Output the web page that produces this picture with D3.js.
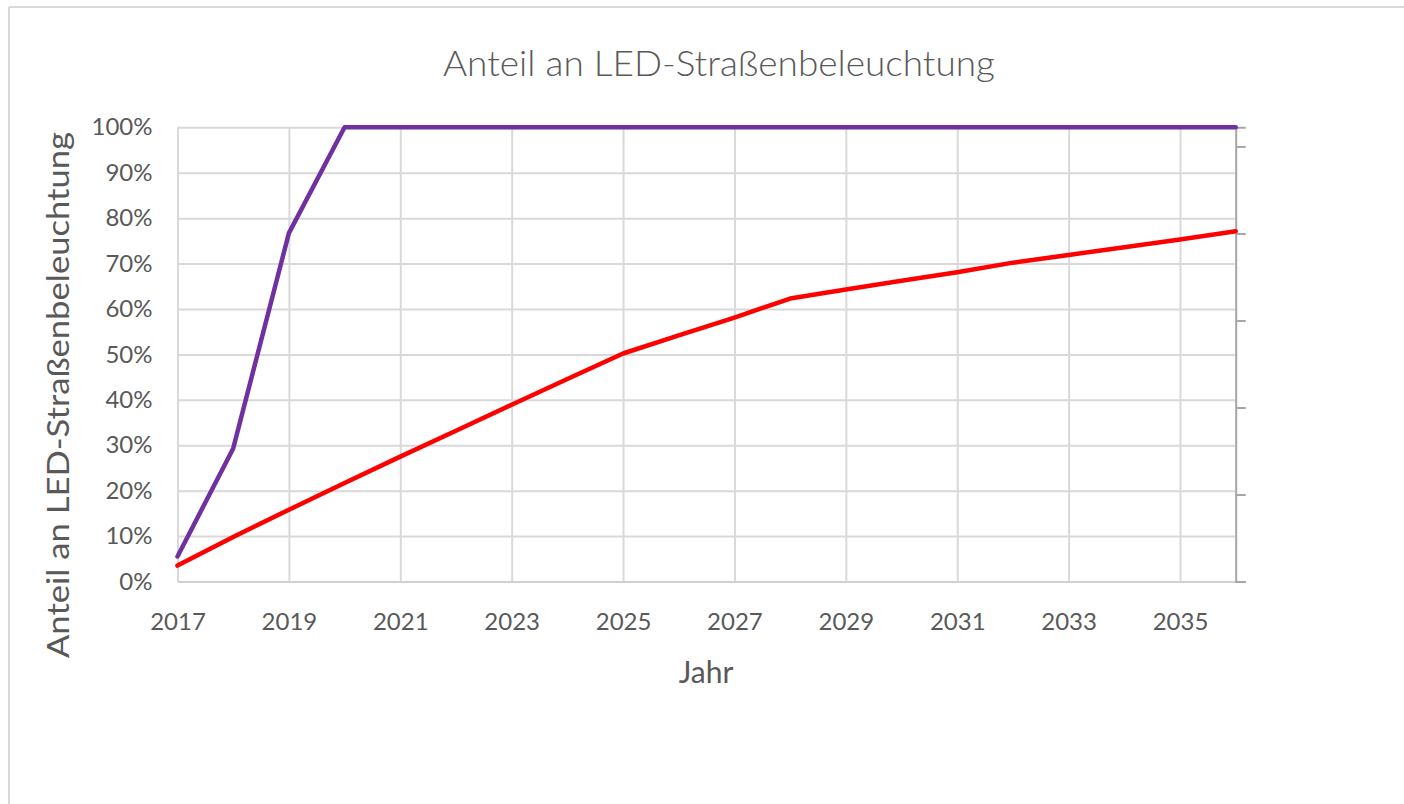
<!DOCTYPE html>
<html lang="de">
<head>
<meta charset="utf-8">
<title>Anteil an LED-Straßenbeleuchtung</title>
<script src="https://cdn.jsdelivr.net/npm/d3@7/dist/d3.min.js"></script>
<style>
  html, body { margin: 0; padding: 0; background: #ffffff; }
  svg { display: block; }
  text { font-family: Lato, "Open Sans", "DejaVu Sans", sans-serif; fill: #595959; }
</style>
</head>
<body>
<svg id="chart" width="1404" height="804"></svg>
<script>
// Jahre (Kategorien)
const years = [2017, 2018, 2019, 2020, 2021, 2022, 2023, 2024, 2025, 2026,
               2027, 2028, 2029, 2030, 2031, 2032, 2033, 2034, 2035, 2036];

// Anteil LED, schnelles Szenario (lila)
const fastShare = [0.055, 0.293, 0.767, 1.00, 1.00, 1.00, 1.00, 1.00, 1.00, 1.00,
                   1.00, 1.00, 1.00, 1.00, 1.00, 1.00, 1.00, 1.00, 1.00, 1.00];

// Anteil LED, langsames Szenario (rot)
const slowShare = [0.035, 0.098, 0.158, 0.217, 0.275, 0.332, 0.389, 0.446, 0.502, 0.542,
                   0.581, 0.623, 0.643, 0.662, 0.681, 0.702, 0.719, 0.736, 0.753, 0.771];

// Beschriftete Jahre auf der x-Achse
const xTickYears = [2017, 2019, 2021, 2023, 2025, 2027, 2029, 2031, 2033, 2035];

// Werte der y-Achse
const yTicks = [0, 0.1, 0.2, 0.3, 0.4, 0.5, 0.6, 0.7, 0.8, 0.9, 1.0];

// Sekundärachse rechts (ohne Beschriftung)
const rightTicks = [0, 1, 2, 3, 4, 5];
const rightMax = 5.22;

const svg = d3.select("#chart");

// Rahmen des Diagrammbereichs
svg.append("line").attr("x1", 9).attr("x2", 1404).attr("y1", 7).attr("y2", 7)
  .attr("stroke", "#d9d9d9").attr("stroke-width", 2);
svg.append("line").attr("x1", 9).attr("x2", 9).attr("y1", 7).attr("y2", 804)
  .attr("stroke", "#d9d9d9").attr("stroke-width", 2);

const plot = { left: 177.5, right: 1235.7, top: 127.3, bottom: 581.5 };

const x = d3.scaleLinear().domain([years[0], years[years.length - 1]])
  .range([plot.left, plot.right]);
const y = d3.scaleLinear().domain([0, 1]).range([plot.bottom, plot.top]);
const yRight = d3.scaleLinear().domain([0, rightMax]).range([plot.bottom, plot.top]);

// Gitternetzlinien horizontal
svg.append("g")
  .attr("transform", `translate(${plot.left},0)`)
  .call(d3.axisLeft(y).tickValues(yTicks).tickSize(-(plot.right - plot.left)).tickFormat(""))
  .call(g => g.select(".domain").remove())
  .call(g => g.selectAll("line").attr("stroke", "#d9d9d9").attr("stroke-width", 2));

// Gitternetzlinien vertikal
svg.append("g")
  .attr("transform", `translate(0,${plot.bottom})`)
  .call(d3.axisBottom(x).tickValues(xTickYears).tickSize(-(plot.bottom - plot.top)).tickFormat(""))
  .call(g => g.select(".domain").remove())
  .call(g => g.selectAll("line").attr("stroke", "#d9d9d9").attr("stroke-width", 2));

// x-Achse (Linie und Beschriftung)
const xAxis = svg.append("g")
  .attr("transform", `translate(0,${plot.bottom})`)
  .call(d3.axisBottom(x).tickValues(xTickYears).tickSize(0).tickPadding(30).tickFormat(d3.format("d")));
xAxis.select(".domain").attr("stroke", "#d0d0d0").attr("stroke-width", 2);
xAxis.selectAll("text")
  .attr("font-size", 24).attr("fill", "#595959").attr("dy", "0")
  .attr("y", 48.5)
  .style("font-family", "Lato, 'Open Sans', sans-serif");

// y-Achse (Beschriftung)
const yAxis = svg.append("g")
  .attr("transform", `translate(${plot.left},0)`)
  .call(d3.axisLeft(y).tickValues(yTicks).tickSize(0).tickPadding(25).tickFormat(d3.format(".0%")));
yAxis.select(".domain").remove();
yAxis.selectAll("text")
  .attr("font-size", 24).attr("fill", "#595959")
  .style("font-family", "Lato, 'Open Sans', sans-serif");

// Sekundärachse rechts
const rAxis = svg.append("g")
  .attr("transform", `translate(${plot.right},0)`)
  .call(d3.axisRight(yRight).tickValues(rightTicks).tickSize(10).tickFormat(""));
rAxis.select(".domain").attr("stroke", "#a6a6a6").attr("stroke-width", 2);
rAxis.selectAll("line").attr("stroke", "#a6a6a6").attr("stroke-width", 2);

// Linien
const line = d3.line().x((d, i) => x(years[i])).y(d => y(d));

svg.append("path").datum(slowShare)
  .attr("d", line).attr("fill", "none")
  .attr("stroke", "#ff0000").attr("stroke-width", 4.5)
  .attr("stroke-linejoin", "round").attr("stroke-linecap", "round");

svg.append("path").datum(fastShare)
  .attr("d", line).attr("fill", "none")
  .attr("stroke", "#7030a0").attr("stroke-width", 4.5)
  .attr("stroke-linejoin", "round").attr("stroke-linecap", "round");

// Titel
svg.append("text")
  .attr("x", 719).attr("y", 76)
  .attr("text-anchor", "middle")
  .attr("font-size", 36).attr("font-weight", 300)
  .attr("textLength", 552).attr("lengthAdjust", "spacingAndGlyphs")
  .text("Anteil an LED-Straßenbeleuchtung");

// Achsentitel y
svg.append("text")
  .attr("transform", "translate(69,395) rotate(-90)")
  .attr("text-anchor", "middle")
  .attr("font-size", 30)
  .attr("textLength", 526).attr("lengthAdjust", "spacingAndGlyphs")
  .text("Anteil an LED-Straßenbeleuchtung");

// Achsentitel x
svg.append("text")
  .attr("x", 706).attr("y", 683)
  .attr("text-anchor", "middle")
  .attr("font-size", 30)
  .text("Jahr");
</script>
</body>
</html>
